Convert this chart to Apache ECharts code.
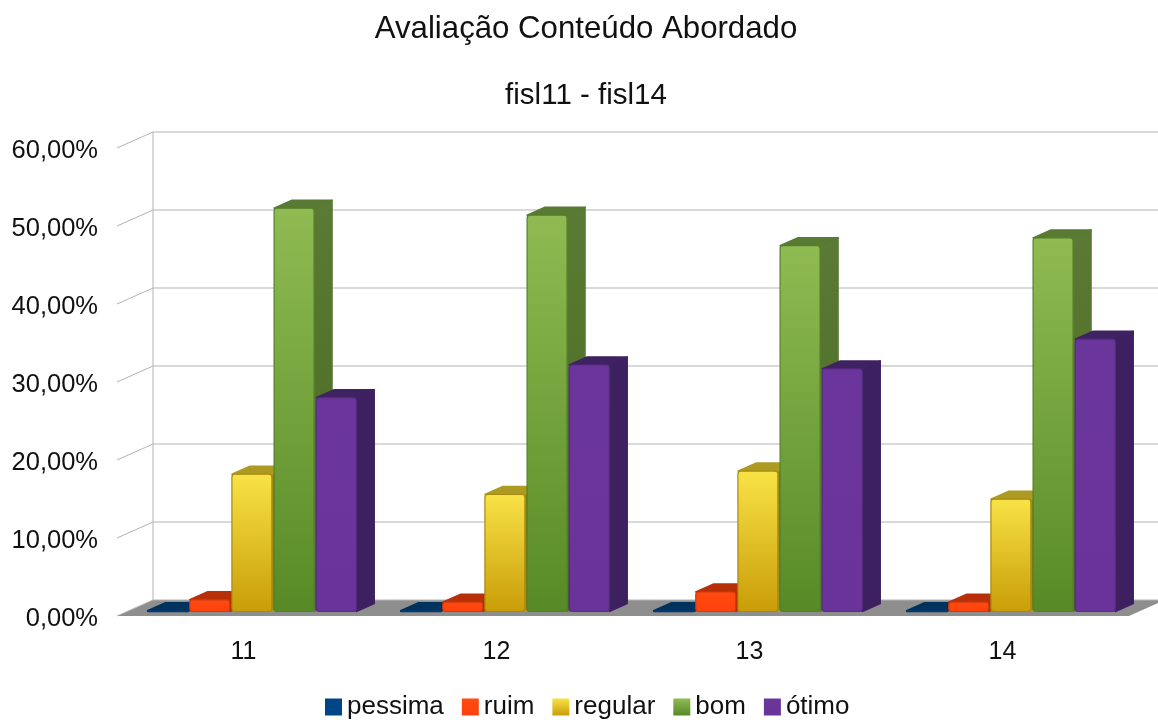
<!DOCTYPE html>
<html><head><meta charset="utf-8">
<style>html,body{margin:0;padding:0;background:#fff}#c{width:1158px;height:720px}</style>
<script src="https://cdn.jsdelivr.net/npm/echarts@6/dist/echarts.min.js"></script>
</head><body><div id="c"></div>
<script>
const categories = ['11','12','13','14'];
const pessima = [0.1,0.1,0.1,0.1];
const ruim    = [1.5,1.2,2.5,1.2];
const regular = [17.6,15.0,18.0,14.4];
const bom     = [51.7,50.8,46.9,47.9];
const otimo   = [27.4,31.6,31.1,34.9];
const yTicks  = [0,10,20,30,40,50,60];

const chart = echarts.init(document.getElementById('c'), null, {renderer:'canvas'});
const LG = (a,b)=> new echarts.graphic.LinearGradient(0,0,0,1,[{offset:0,color:a},{offset:1,color:b}]);
const WALL=[36,-16], BAR=[9.5,-4.5], DEPTH=[18,-8];

const seriesDefs = [
 {name:'pessima',data:pessima,front:['#004586','#004586'],side:'#002f5c',top:'#00325e',edge:'#003a70'},
 {name:'ruim',data:ruim,front:['#ff4a10','#ff420e'],side:'#a82c08',top:'#b83008',edge:'#d03a0c'},
 {name:'regular',data:regular,front:['#f8e346','#c99d08'],side:'#8f7c12',top:'#ad9a22',edge:'#a68a10'},
 {name:'bom',data:bom,front:['#8fbb52','#578a26'],side:['#5b7a35','#486a20'],top:'#587a32',edge:'#55802a'},
 {name:'ótimo',data:otimo,front:['#6b369c','#6a3399'],side:'#3d205f',top:'#3f2262',edge:'#5a2c86'}
];
const n = seriesDefs.length;

function barSeries(d,si){
  const frontFill = LG(d.front[0],d.front[1]);
  const sideFill = Array.isArray(d.side)? LG(d.side[0],d.side[1]) : d.side;
  return {
    name:d.name,type:'custom',coordinateSystem:'cartesian2d',
    itemStyle:{color:frontFill},
    encode:{x:0,y:1},
    data:d.data.map((v,i)=>[i,v]),
    z:3+si,
    renderItem(params,api){
      const top = api.coord([api.value(0),api.value(1)]);
      const base = api.coord([api.value(0),0]);
      const band = api.size([1,0])[0];
      const pitch = band/(n+1);
      const w = pitch-2.2;
      const x0 = top[0]+BAR[0]-pitch*n/2+pitch*si, x1=x0+w;
      const yT = top[1]+BAR[1], yB = base[1]+BAR[1];
      const dx=DEPTH[0], dy=DEPTH[1];
      return {type:'group',children:[
        {type:'polygon',shape:{points:[[x1,yT],[x1+dx,yT+dy],[x1+dx,yB+dy],[x1,yB]]},
         style:{fill:sideFill,stroke:d.top,lineWidth:1.5,lineJoin:'round'}},
        {type:'polygon',shape:{points:[[x0,yT],[x0+dx,yT+dy],[x1+dx,yT+dy],[x1,yT]]},
         style:{fill:d.top,stroke:d.top,lineWidth:1.5,lineJoin:'round'}},
        {type:'rect',shape:{x:x0,y:yT,width:w,height:Math.max(yB-yT,1),r:3},
         style:{fill:frontFill,stroke:d.edge,lineWidth:1.2}}
      ]};
    }
  };
}

const wallSeries = {
  type:'custom',coordinateSystem:'cartesian2d',silent:true,z:1,
  encode:{y:0},
  data:yTicks.map(v=>[v]),
  renderItem(params,api){
    const v = api.value(0);
    const g = params.coordSys;
    const p = api.coord([0,v]);
    const xL=g.x, xR=g.x+g.width, y=p[1];
    const kids=[{type:'polyline',shape:{points:[[xL,y],[xL+WALL[0],y+WALL[1]],[xR+WALL[0],y+WALL[1]]]},
      style:{fill:null,stroke:'#b3b3b3',lineWidth:1}}];
    if(v===0){
      kids.unshift({type:'polygon',shape:{points:[[xL,y],[xL+WALL[0],y+WALL[1]],[xR+WALL[0],y+WALL[1]],[xR,y]]},
        style:{fill:'#8e8e8e'}});
      const topY=api.coord([0,60])[1];
      kids.push({type:'line',shape:{x1:xL+WALL[0],y1:y+WALL[1],x2:xL+WALL[0],y2:topY+WALL[1]},
        style:{stroke:'#b3b3b3',lineWidth:1}});
    }
    return {type:'group',children:kids};
  }
};

const font='"Liberation Sans"';
chart.setOption({
  animation:false,
  backgroundColor:'#fff',
  title:[
    {text:'Avaliação Conteúdo Abordado',left:581,top:9,textAlign:'center',
     textStyle:{fontFamily:font,fontSize:31.2,fontWeight:'normal',color:'#111'}},
    {text:'fisl11 - fisl14',left:581,top:76,textAlign:'center',
     textStyle:{fontFamily:font,fontSize:29.5,fontWeight:'normal',color:'#111'}}
  ],
  grid:{left:117,top:148,width:1012,height:468,containLabel:false},
  xAxis:{type:'category',data:categories,axisLine:{show:false},axisTick:{show:false},
    axisLabel:{fontFamily:font,fontSize:25,color:'#111',margin:24},splitLine:{show:false}},
  yAxis:{type:'value',min:0,max:60,interval:10,axisLine:{show:false},axisTick:{show:false},splitLine:{show:false},
    axisLabel:{fontFamily:font,fontSize:25.5,color:'#111',margin:19,verticalAlign:'top',lineHeight:6,
      formatter:v=>v.toFixed(2).replace('.',',')+'%'}},
  legend:{data:seriesDefs.map(d=>d.name),left:320,top:689,itemWidth:17,itemHeight:17,itemGap:18,
    icon:'rect',textStyle:{fontFamily:font,fontSize:26,color:'#111'}},
  series:[wallSeries].concat(seriesDefs.map(barSeries))
});
</script></body></html>
